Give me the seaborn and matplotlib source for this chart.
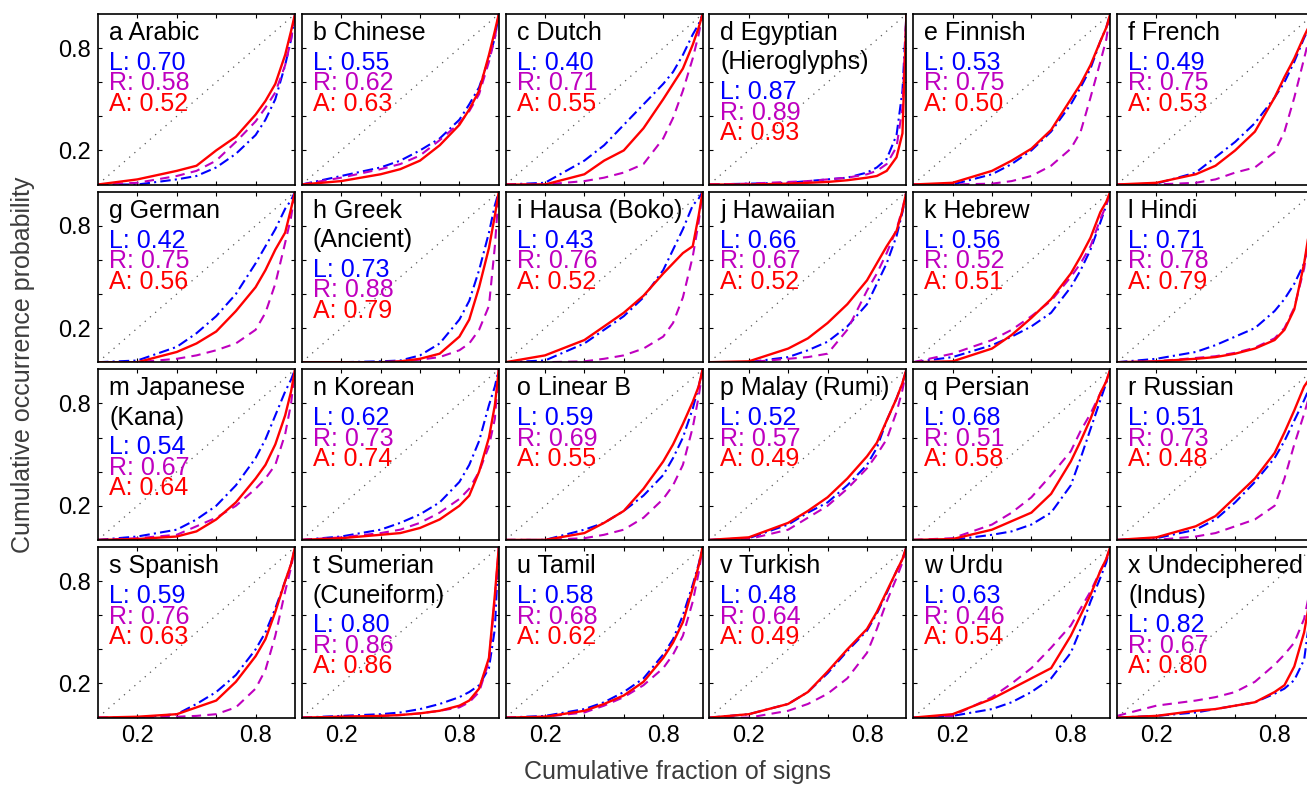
import numpy as np
import matplotlib
matplotlib.use("Agg")
import matplotlib.pyplot as plt
import seaborn as sns

# cumulative fraction of signs (shared x grid for every curve)
X = [0, 0.2, 0.4, 0.5, 0.6, 0.7, 0.8, 0.85, 0.9, 0.95, 0.98, 1.0]

TITLES = ["a Arabic", "b Chinese", "c Dutch", "d Egyptian\n(Hieroglyphs)", "e Finnish", "f French",
          "g German", "h Greek\n(Ancient)", "i Hausa (Boko)", "j Hawaiian", "k Hebrew", "l Hindi",
          "m Japanese\n(Kana)", "n Korean", "o Linear B", "p Malay (Rumi)", "q Persian", "r Russian",
          "s Spanish", "t Sumerian\n(Cuneiform)", "u Tamil", "v Turkish", "w Urdu", "x Undeciphered\n(Indus)"]

L_VALUES = ["0.70", "0.55", "0.40", "0.87", "0.53", "0.49", "0.42", "0.73", "0.43", "0.66", "0.56", "0.71",
            "0.54", "0.62", "0.59", "0.52", "0.68", "0.51", "0.59", "0.80", "0.58", "0.48", "0.63", "0.82"]
R_VALUES = ["0.58", "0.62", "0.71", "0.89", "0.75", "0.75", "0.75", "0.88", "0.76", "0.67", "0.52", "0.78",
            "0.67", "0.73", "0.69", "0.57", "0.51", "0.73", "0.76", "0.86", "0.68", "0.64", "0.46", "0.67"]
A_VALUES = ["0.52", "0.63", "0.55", "0.93", "0.50", "0.53", "0.56", "0.79", "0.52", "0.52", "0.51", "0.79",
            "0.64", "0.74", "0.55", "0.49", "0.58", "0.48", "0.63", "0.86", "0.62", "0.49", "0.54", "0.80"]

# L curves (blue, dash-dot)
L_CURVES = [
    [0, 0.00, 0.03, 0.05, 0.10, 0.18, 0.29, 0.38, 0.50, 0.70, 0.85, 1.0],
    [0, 0.05, 0.10, 0.14, 0.20, 0.27, 0.38, 0.47, 0.57, 0.74, 0.86, 1.0],
    [0, 0.01, 0.14, 0.23, 0.35, 0.47, 0.59, 0.66, 0.76, 0.88, 0.94, 1.0],
    [0, 0.005, 0.01, 0.02, 0.03, 0.04, 0.07, 0.10, 0.15, 0.29, 0.55, 1.0],
    [0, 0.00, 0.06, 0.12, 0.20, 0.31, 0.47, 0.57, 0.68, 0.84, 0.92, 1.0],
    [0, 0.005, 0.07, 0.16, 0.25, 0.36, 0.51, 0.60, 0.72, 0.86, 0.93, 1.0],
    [0, 0.01, 0.09, 0.17, 0.27, 0.40, 0.58, 0.68, 0.78, 0.90, 0.95, 1.0],
    [0, 0.00, 0.005, 0.01, 0.04, 0.11, 0.25, 0.36, 0.54, 0.76, 0.92, 1.0],
    [0, 0.01, 0.11, 0.19, 0.27, 0.38, 0.54, 0.66, 0.78, 0.92, 0.96, 1.0],
    [0, 0.00, 0.03, 0.07, 0.12, 0.21, 0.34, 0.46, 0.58, 0.74, 0.88, 1.0],
    [0, 0.03, 0.10, 0.15, 0.21, 0.29, 0.44, 0.54, 0.66, 0.82, 0.92, 1.0],
    [0, 0.02, 0.06, 0.10, 0.15, 0.20, 0.30, 0.37, 0.46, 0.58, 0.75, 1.0],
    [0, 0.02, 0.06, 0.12, 0.20, 0.32, 0.48, 0.59, 0.73, 0.87, 0.94, 1.0],
    [0, 0.02, 0.06, 0.10, 0.15, 0.22, 0.34, 0.44, 0.58, 0.79, 0.90, 1.0],
    [0, 0.00, 0.06, 0.10, 0.17, 0.26, 0.38, 0.48, 0.60, 0.77, 0.90, 1.0],
    [0, 0.01, 0.09, 0.16, 0.22, 0.32, 0.44, 0.54, 0.70, 0.83, 0.92, 1.0],
    [0, 0.00, 0.03, 0.05, 0.09, 0.16, 0.32, 0.48, 0.65, 0.82, 0.92, 1.0],
    [0, 0.01, 0.06, 0.12, 0.22, 0.34, 0.48, 0.58, 0.70, 0.82, 0.90, 1.0],
    [0, 0.00, 0.02, 0.08, 0.15, 0.25, 0.40, 0.50, 0.64, 0.80, 0.90, 1.0],
    [0, 0.01, 0.02, 0.03, 0.05, 0.08, 0.12, 0.15, 0.19, 0.29, 0.52, 1.0],
    [0, 0.01, 0.05, 0.09, 0.15, 0.23, 0.37, 0.46, 0.60, 0.78, 0.90, 1.0],
    [0, 0.02, 0.08, 0.15, 0.26, 0.39, 0.51, 0.61, 0.73, 0.86, 0.93, 1.0],
    [0, 0.01, 0.05, 0.09, 0.15, 0.23, 0.38, 0.52, 0.68, 0.82, 0.91, 1.0],
    [0, 0.01, 0.03, 0.05, 0.07, 0.09, 0.14, 0.17, 0.22, 0.34, 0.60, 1.0],
]

# R curves (magenta, dashed)
R_CURVES = [
    [0, 0.01, 0.05, 0.08, 0.14, 0.25, 0.37, 0.45, 0.54, 0.70, 0.85, 1.0],
    [0, 0.04, 0.09, 0.12, 0.17, 0.26, 0.36, 0.43, 0.53, 0.72, 0.86, 1.0],
    [0, 0.00, 0.02, 0.04, 0.07, 0.12, 0.27, 0.39, 0.55, 0.74, 0.88, 1.0],
    [0, 0.005, 0.015, 0.02, 0.03, 0.04, 0.06, 0.08, 0.12, 0.22, 0.45, 1.0],
    [0, 0.00, 0.005, 0.02, 0.05, 0.11, 0.21, 0.31, 0.51, 0.72, 0.85, 1.0],
    [0, 0.00, 0.01, 0.03, 0.07, 0.10, 0.19, 0.31, 0.51, 0.74, 0.88, 1.0],
    [0, 0.00, 0.02, 0.04, 0.07, 0.11, 0.19, 0.29, 0.46, 0.70, 0.85, 1.0],
    [0, 0.00, 0.00, 0.005, 0.015, 0.03, 0.07, 0.11, 0.19, 0.33, 0.68, 1.0],
    [0, 0.00, 0.005, 0.02, 0.04, 0.08, 0.15, 0.23, 0.38, 0.62, 0.82, 1.0],
    [0, 0.00, 0.02, 0.03, 0.05, 0.19, 0.42, 0.52, 0.64, 0.78, 0.90, 1.0],
    [0, 0.05, 0.13, 0.19, 0.27, 0.36, 0.50, 0.58, 0.68, 0.84, 0.92, 1.0],
    [0, 0.005, 0.025, 0.035, 0.055, 0.085, 0.14, 0.20, 0.32, 0.55, 0.78, 1.0],
    [0, 0.01, 0.03, 0.08, 0.13, 0.20, 0.30, 0.36, 0.44, 0.62, 0.80, 1.0],
    [0, 0.015, 0.04, 0.06, 0.10, 0.16, 0.24, 0.30, 0.40, 0.55, 0.71, 1.0],
    [0, 0.00, 0.01, 0.03, 0.06, 0.13, 0.24, 0.32, 0.44, 0.66, 0.84, 1.0],
    [0, 0.005, 0.06, 0.13, 0.20, 0.30, 0.42, 0.50, 0.59, 0.75, 0.88, 1.0],
    [0, 0.01, 0.09, 0.16, 0.25, 0.38, 0.52, 0.64, 0.74, 0.86, 0.93, 1.0],
    [0, 0.00, 0.02, 0.04, 0.08, 0.12, 0.20, 0.36, 0.56, 0.74, 0.86, 1.0],
    [0, 0.00, 0.005, 0.01, 0.02, 0.06, 0.17, 0.28, 0.48, 0.74, 0.88, 1.0],
    [0, 0.005, 0.01, 0.015, 0.025, 0.04, 0.06, 0.09, 0.15, 0.33, 0.70, 1.0],
    [0, 0.005, 0.03, 0.07, 0.12, 0.19, 0.29, 0.37, 0.48, 0.68, 0.85, 1.0],
    [0, 0.00, 0.04, 0.08, 0.14, 0.23, 0.38, 0.52, 0.68, 0.82, 0.91, 1.0],
    [0, 0.01, 0.12, 0.20, 0.29, 0.41, 0.54, 0.64, 0.74, 0.86, 0.93, 1.0],
    [0.01, 0.07, 0.10, 0.12, 0.15, 0.21, 0.31, 0.37, 0.44, 0.58, 0.75, 1.0],
]

# A curves (red, solid)
A_CURVES = [
    [0, 0.03, 0.08, 0.11, 0.20, 0.28, 0.41, 0.49, 0.59, 0.76, 0.90, 1.0],
    [0, 0.02, 0.06, 0.09, 0.14, 0.23, 0.35, 0.44, 0.55, 0.76, 0.90, 1.0],
    [0, 0.00, 0.06, 0.14, 0.20, 0.33, 0.50, 0.59, 0.68, 0.82, 0.92, 1.0],
    [0, 0.00, 0.005, 0.01, 0.015, 0.025, 0.04, 0.05, 0.08, 0.16, 0.30, 1.0],
    [0, 0.01, 0.08, 0.14, 0.21, 0.32, 0.50, 0.59, 0.70, 0.84, 0.92, 1.0],
    [0, 0.01, 0.06, 0.11, 0.20, 0.31, 0.51, 0.63, 0.74, 0.87, 0.94, 1.0],
    [0, 0.00, 0.06, 0.11, 0.18, 0.30, 0.44, 0.54, 0.66, 0.76, 0.90, 1.0],
    [0, 0.00, 0.00, 0.005, 0.02, 0.05, 0.15, 0.25, 0.44, 0.67, 0.86, 1.0],
    [0, 0.04, 0.13, 0.21, 0.29, 0.39, 0.52, 0.58, 0.64, 0.68, 0.86, 1.0],
    [0, 0.005, 0.08, 0.14, 0.23, 0.34, 0.48, 0.58, 0.68, 0.77, 0.89, 1.0],
    [0, 0.005, 0.08, 0.16, 0.26, 0.37, 0.52, 0.62, 0.73, 0.88, 0.94, 1.0],
    [0, 0.005, 0.02, 0.03, 0.05, 0.08, 0.13, 0.19, 0.31, 0.58, 0.80, 1.0],
    [0, 0.005, 0.02, 0.05, 0.12, 0.22, 0.36, 0.44, 0.56, 0.73, 0.87, 1.0],
    [0, 0.01, 0.03, 0.04, 0.07, 0.12, 0.20, 0.26, 0.40, 0.60, 0.79, 1.0],
    [0, 0.00, 0.04, 0.10, 0.17, 0.30, 0.46, 0.56, 0.68, 0.81, 0.90, 1.0],
    [0, 0.015, 0.10, 0.17, 0.25, 0.36, 0.49, 0.57, 0.70, 0.83, 0.92, 1.0],
    [0, 0.005, 0.06, 0.11, 0.16, 0.27, 0.46, 0.58, 0.71, 0.86, 0.93, 1.0],
    [0, 0.015, 0.08, 0.14, 0.25, 0.36, 0.51, 0.63, 0.76, 0.90, 0.95, 1.0],
    [0, 0.005, 0.02, 0.06, 0.10, 0.21, 0.36, 0.46, 0.62, 0.80, 0.90, 1.0],
    [0, 0.005, 0.01, 0.015, 0.025, 0.04, 0.07, 0.10, 0.17, 0.35, 0.72, 1.0],
    [0, 0.005, 0.04, 0.08, 0.13, 0.21, 0.35, 0.44, 0.56, 0.76, 0.89, 1.0],
    [0, 0.02, 0.08, 0.15, 0.27, 0.40, 0.52, 0.62, 0.74, 0.86, 0.93, 1.0],
    [0, 0.02, 0.11, 0.17, 0.23, 0.29, 0.48, 0.60, 0.72, 0.86, 0.93, 1.0],
    [0, 0.01, 0.04, 0.05, 0.07, 0.09, 0.15, 0.19, 0.30, 0.50, 0.70, 1.0],
]

sns.set_theme(style="white")
plt.rcParams["font.family"] = ["Liberation Sans", "DejaVu Sans"]

BLUE = "#0000ff"
MAGENTA = "#bf00bf"
RED = "#ff0000"
FS = 18

W, H = 1307, 785
fig = plt.figure(figsize=(W / 100, H / 100), dpi=100)

ax_w, ax_h = 197, 170.5
col_step, row_step = 203.8, 177.7

for i, title in enumerate(TITLES):
    r, c = divmod(i, 6)
    left = 98 + c * col_step
    top = 14 + r * row_step
    ax = fig.add_axes([left / W, 1 - (top + ax_h) / H, ax_w / W, ax_h / H])

    ax.plot([0, 1], [0, 1], color="0.35", lw=0.9, linestyle=(0, (1, 4.5)))
    sns.lineplot(x=X, y=L_CURVES[i], ax=ax, color=BLUE, lw=1.5,
                 linestyle=(0, (5, 2, 1, 2)))
    sns.lineplot(x=X, y=R_CURVES[i], ax=ax, color=MAGENTA, lw=1.5,
                 linestyle=(0, (4.5, 3)))
    sns.lineplot(x=X, y=A_CURVES[i], ax=ax, color=RED, lw=1.7)

    ax.set_xlim(0, 1)
    ax.set_ylim(0, 1)
    ax.set_xticks([0.2, 0.4, 0.6, 0.8])
    ax.set_yticks([0.2, 0.4, 0.6, 0.8])
    if r == 3:
        ax.set_xticklabels(["0.2", "", "", "0.8"])
    else:
        ax.set_xticklabels([])
    if c == 0:
        ax.set_yticklabels(["0.2", "", "", "0.8"])
    else:
        ax.set_yticklabels([])
    ax.tick_params(direction="in", length=3, width=0.8, top=True, right=True,
                   bottom=True, left=True, labelsize=17, colors="black", pad=5)
    for sp in ax.spines.values():
        sp.set_color("black")
        sp.set_linewidth(1.2)

    # panel labels, positioned in pixels from the top of the box
    lines = title.split("\n")
    ys = [26, 55.5] if len(lines) == 2 else [26]
    for ln, yy in zip(lines, ys):
        ax.text(0.056, 1 - yy / ax_h, ln, transform=ax.transAxes, fontsize=FS,
                color="black", va="baseline", ha="left")
    base = 85 if len(lines) == 2 else 56
    for k, (lab, val, col) in enumerate([("L", L_VALUES[i], BLUE), ("R", R_VALUES[i], MAGENTA),
                                          ("A", A_VALUES[i], RED)]):
        ax.text(0.056, 1 - (base + 20.5 * k) / ax_h, f"{lab}: {val}", transform=ax.transAxes,
                fontsize=FS, color=col, va="baseline", ha="left")

fig.text(677 / W, 1 - 772 / H, "Cumulative fraction of signs", ha="center", va="center",
         fontsize=FS, color="#3c3c3c")
fig.text(23 / W, 1 - 365 / H, "Cumulative occurrence probability", ha="center", va="center",
         rotation=90, fontsize=FS, color="#3c3c3c")

fig.savefig("out.png", dpi=100)
